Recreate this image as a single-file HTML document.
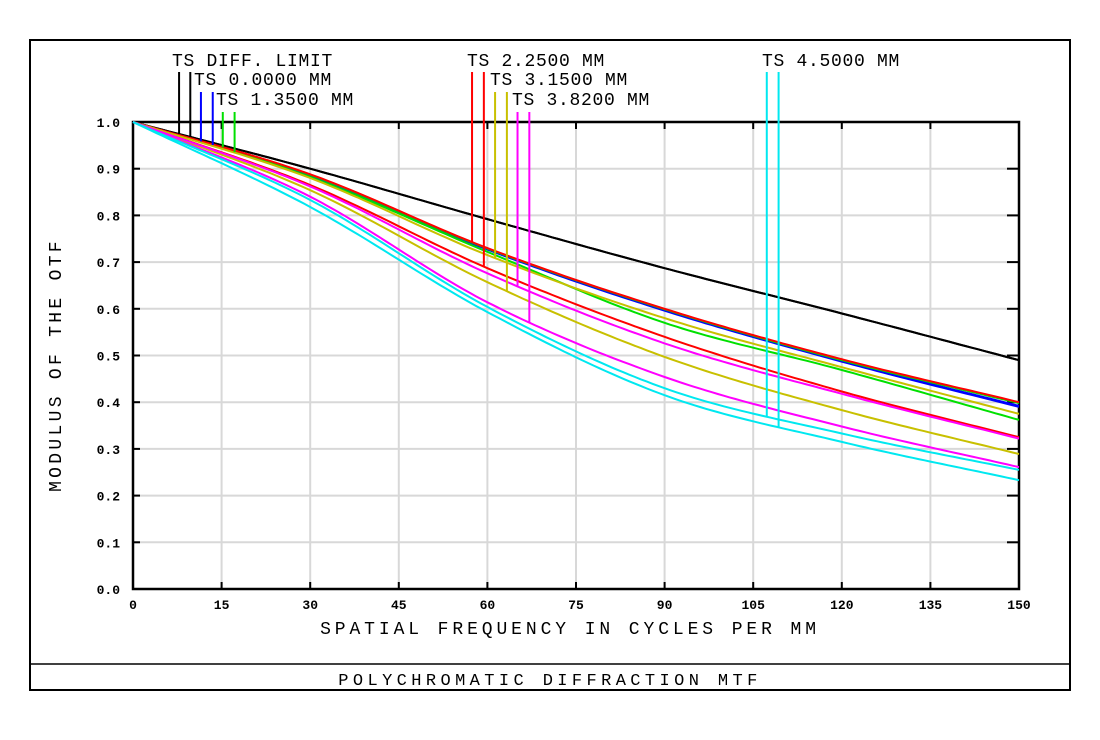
<!DOCTYPE html>
<html><head><meta charset="utf-8">
<style>
body{margin:0;background:#fff;}
svg text{font-family:"Liberation Mono","DejaVu Sans Mono",monospace;}
</style></head>
<body>
<svg id="chart" width="1100" height="735" viewBox="0 0 1100 735" xmlns="http://www.w3.org/2000/svg">
<rect x="0" y="0" width="1100" height="735" fill="#fff"/>
<rect x="30" y="40" width="1040" height="650" fill="none" stroke="#000" stroke-width="2"/>
<line x1="30" y1="664" x2="1070" y2="664" stroke="#000" stroke-width="1.5"/>
<text x="550" y="685" font-size="17" text-anchor="middle" letter-spacing="4.4">POLYCHROMATIC DIFFRACTION MTF</text>
<g id="grid"></g>
<g id="axes"></g>
<g id="series"></g>
<g id="labels"></g>
<text x="570" y="634" font-size="18" text-anchor="middle" letter-spacing="3.9">SPATIAL FREQUENCY IN CYCLES PER MM</text>
<text x="0" y="0" font-size="18" text-anchor="middle" letter-spacing="3.3" transform="translate(61,365) rotate(-90)">MODULUS OF THE OTF</text>
</svg>
<script>
const freqs = [0, 30, 60, 90, 120, 150];
const xTicks = [0, 15, 30, 45, 60, 75, 90, 105, 120, 135, 150];
const yTicks = [0, 0.1, 0.2, 0.3, 0.4, 0.5, 0.6, 0.7, 0.8, 0.9, 1.0];
const diffLimit = [1, 0.90, 0.792, 0.687, 0.59, 0.49];
const f0T = [1, 0.886, 0.728, 0.597, 0.488, 0.392];
const f0S = [1, 0.885, 0.727, 0.596, 0.487, 0.39];
const f135T = [1, 0.887, 0.729, 0.599, 0.49, 0.398];
const f135S = [1, 0.882, 0.722, 0.57, 0.469, 0.362];
const f225T = [1, 0.888, 0.73, 0.60, 0.492, 0.40];
const f225S = [1, 0.865, 0.687, 0.54, 0.423, 0.325];
const f315T = [1, 0.88, 0.715, 0.58, 0.475, 0.375];
const f315S = [1, 0.854, 0.657, 0.497, 0.383, 0.289];
const f382T = [1, 0.862, 0.676, 0.526, 0.418, 0.322];
const f382S = [1, 0.84, 0.614, 0.454, 0.348, 0.261];
const f450T = [1, 0.833, 0.604, 0.43, 0.333, 0.255];
const f450S = [1, 0.818, 0.593, 0.415, 0.315, 0.233];
const markerFreqT = [7.8, 11.5, 15.2, 57.4, 61.3, 65.1, 107.3];
const markerFreqS = [9.7, 13.5, 17.2, 59.4, 63.3, 67.1, 109.3];

const X0=133, X1=1019, Y0=589, Y1=122;
const xs = f => X0 + (f/150)*(X1-X0);
const ys = v => Y0 - v*(Y0-Y1);
const NS='http://www.w3.org/2000/svg';
function mk(tag, attrs, parent){const e=document.createElementNS(NS,tag);for(const k in attrs)e.setAttribute(k,attrs[k]);parent.appendChild(e);return e;}
// monotone cubic (Fritsch-Carlson) interpolation
function interp(arr, f){
  const n=arr.length, h=freqs[1]-freqs[0];
  const d=[];for(let i=0;i<n-1;i++)d.push((arr[i+1]-arr[i])/h);
  const m=[d[0]];for(let i=1;i<n-1;i++)m.push(d[i-1]*d[i]<=0?0:(d[i-1]+d[i])/2);m.push(d[n-2]);
  let i=Math.min(Math.floor(f/h), n-2);
  const t=(f-freqs[i])/h, t2=t*t, t3=t2*t;
  return (2*t3-3*t2+1)*arr[i]+(t3-2*t2+t)*h*m[i]+(-2*t3+3*t2)*arr[i+1]+(t3-t2)*h*m[i+1];
}
const grid=document.getElementById('grid'), axes=document.getElementById('axes');
xTicks.forEach(t=>{
  const l=mk('line',{x1:xs(t),x2:xs(t),y1:Y1,y2:Y0,stroke:'#d8d8d8','stroke-width':2},grid);
  
  
  mk('line',{x1:xs(t),x2:xs(t),y1:Y0,y2:Y0-7,stroke:'#000','stroke-width':2},axes);
  mk('line',{x1:xs(t),x2:xs(t),y1:Y1,y2:Y1+7,stroke:'#000','stroke-width':2},axes);
  const tx=mk('text',{x:xs(t),y:609,'font-size':13,'font-weight':'bold','text-anchor':'middle'},axes);
  tx.textContent=String(t);
  
  
});
yTicks.forEach(v=>{
  const l=mk('line',{x1:X0,x2:X1,y1:ys(v),y2:ys(v),stroke:'#d8d8d8','stroke-width':2},grid);
  
  
  mk('line',{x1:X0,x2:X0+7,y1:ys(v),y2:ys(v),stroke:'#000','stroke-width':2},axes);
  mk('line',{x1:X1-12,x2:X1,y1:ys(v),y2:ys(v),stroke:'#000','stroke-width':2},axes);
  const tx=mk('text',{x:120,y:ys(v)+5,'font-size':13,'font-weight':'bold','text-anchor':'end'},axes);
  tx.textContent=v.toFixed(1);
  
  
});
const frame=mk('rect',{x:X0,y:Y1,width:X1-X0,height:Y0-Y1,fill:'none',stroke:'#000','stroke-width':2.5},axes);



const seriesList=[
 {n:'diff-limit',T:diffLimit,S:diffLimit,c:'#000',top:72},
 {n:'field-0-0000',T:f0T,S:f0S,c:'#0000ff',top:92},
 {n:'field-1-3500',T:f135T,S:f135S,c:'#00e000',top:112},
 {n:'field-2-2500',T:f225T,S:f225S,c:'#ff0000',top:72},
 {n:'field-3-1500',T:f315T,S:f315S,c:'#c8c000',top:92},
 {n:'field-3-8200',T:f382T,S:f382S,c:'#ff00ff',top:112},
 {n:'field-4-5000',T:f450T,S:f450S,c:'#00e8f0',top:72}
];
const sg=document.getElementById('series'), lg=document.getElementById('labels');
seriesList.forEach((s,i)=>{
  [['t',s.T,markerFreqT[i]],['s',s.S,markerFreqS[i]]].forEach(([k,arr,mf])=>{
    let d='';
    for(let f=0;f<=150;f+=1){d+=(f?'L':'M')+xs(f).toFixed(1)+','+ys(interp(arr,f)).toFixed(1);}
    const p=mk('path',{d:d,fill:'none',stroke:s.c,'stroke-width':2},sg);
    
    
    const m=mk('line',{x1:xs(mf),x2:xs(mf),y1:s.top,y2:ys(interp(arr,mf)),stroke:s.c,'stroke-width':2},lg);
    
    
  });
});
const labelTexts=[
 ['TS DIFF. LIMIT',172,66],['TS 0.0000 MM',194,85],['TS 1.3500 MM',216,105],
 ['TS 2.2500 MM',467,66],['TS 3.1500 MM',490,85],['TS 3.8200 MM',512,105],['TS 4.5000 MM',762,66]
];
labelTexts.forEach(([t,x,y])=>{
  const e=mk('text',{x:x,y:y,'font-size':18,'letter-spacing':'0.7'},lg);
  e.textContent=t;
  
  
});
</script>
</body></html>
